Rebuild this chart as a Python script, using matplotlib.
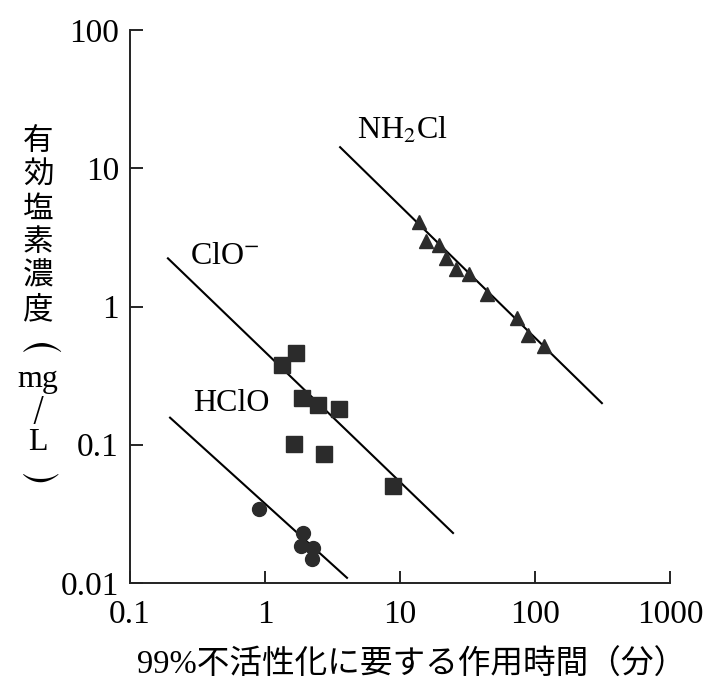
import matplotlib
matplotlib.use("Agg")
import matplotlib.pyplot as plt
from matplotlib.ticker import FixedLocator, FixedFormatter, NullLocator

plt.rcParams["font.family"] = ["Liberation Serif", "Noto Sans CJK JP"]
plt.rcParams["mathtext.fontset"] = "stix"

# ============================================================
# DADOS
# ============================================================

# NH2Cl (triângulos)
nh2cl_t = [13.8, 15.6, 19.4, 21.9, 26.0, 32.4, 44.1, 73.6, 88.8, 117]
nh2cl_c = [4.06, 3.0, 2.77, 2.23, 1.88, 1.73, 1.24, 0.82, 0.62, 0.52]
nh2cl_linha_t = [3.6, 313]
nh2cl_linha_c = [14.2, 0.20]

# ClO- (quadrados)
clo_t = [1.70, 1.34, 1.88, 2.47, 3.53, 1.64, 2.74, 8.87]
clo_c = [0.464, 0.380, 0.219, 0.195, 0.182, 0.102, 0.086, 0.050]
clo_linha_t = [0.191, 24.7]
clo_linha_c = [2.23, 0.023]

# HClO (círculos)
hclo_t = [0.90, 1.91, 1.85, 2.27, 2.23]
hclo_c = [0.0343, 0.0230, 0.0185, 0.0179, 0.0149]
hclo_linha_t = [0.198, 4.05]
hclo_linha_c = [0.157, 0.0109]

xticks = [0.1, 1, 10, 100, 1000]
xticklabels = ["0.1", "1", "10", "100", "1000"]
yticks = [0.01, 0.1, 1, 10, 100]
yticklabels = ["0.01", "0.1", "1", "10", "100"]

# ============================================================
# FIGURA
# ============================================================

W, H = 706, 681
fig = plt.figure(figsize=(W / 100, H / 100), dpi=100)
ax = fig.add_axes([130 / W, 1 - 583 / H, 540 / W, 553 / H])

cor = "#2b2b2b"

ax.plot(nh2cl_linha_t, nh2cl_linha_c, color="black", lw=1.5)
ax.plot(clo_linha_t, clo_linha_c, color="black", lw=1.5)
ax.plot(hclo_linha_t, hclo_linha_c, color="black", lw=1.5)

ax.plot(nh2cl_t, nh2cl_c, linestyle="none", marker="^", markersize=10, color=cor)
ax.plot(clo_t, clo_c, linestyle="none", marker="s", markersize=11, color=cor)
ax.plot(hclo_t, hclo_c, linestyle="none", marker="o", markersize=10, color=cor)

ax.set_xscale("log")
ax.set_yscale("log")
ax.set_xlim(0.1, 1000)
ax.set_ylim(0.01, 100)

ax.xaxis.set_major_locator(FixedLocator(xticks))
ax.xaxis.set_major_formatter(FixedFormatter(xticklabels))
ax.yaxis.set_major_locator(FixedLocator(yticks))
ax.yaxis.set_major_formatter(FixedFormatter(yticklabels))
ax.xaxis.set_minor_locator(NullLocator())
ax.yaxis.set_minor_locator(NullLocator())

ax.spines["top"].set_visible(False)
ax.spines["right"].set_visible(False)
for s in ("left", "bottom"):
    ax.spines[s].set_linewidth(1.4)
    ax.spines[s].set_color("#222222")

ax.tick_params(axis="x", direction="in", length=9, width=1.2, pad=12, labelsize=24)
ax.tick_params(axis="y", direction="in", length=9, width=1.2, pad=8, labelsize=24)

# rótulos das séries
ax.text(10.5, 18.8, "NH$_2$Cl", fontsize=23, ha="center", va="center")
ax.text(0.506, 2.30, "ClO$^{-}$", fontsize=23, ha="center", va="center")
ax.text(0.56, 0.198, "HClO", fontsize=23, ha="center", va="center")

# eixo x
fig.text(412 / W, 1 - 665 / H, "99%不活性化に要する作用時間（分）",
         fontsize=23.5, ha="center", va="center")

# eixo y (texto vertical, um caractere por linha)
ylab_chars = ["有", "効", "塩", "素", "濃", "度"]
for i, ch in enumerate(ylab_chars):
    fig.text(38 / W, 1 - (143 + 33.6 * i) / H, ch, fontsize=22,
             ha="center", va="center")
fig.text(38 / W, 1 - 346 / H, r"$\frown$", fontsize=30, ha="center", va="center")
fig.text(38 / W, 1 - 387 / H, "mg", fontsize=23, ha="center", va="baseline")
fig.text(38 / W, 1 - 411 / H, "/", fontsize=24, ha="center", va="center",
         family="DejaVu Sans", fontweight="light")
fig.text(38 / W, 1 - 450 / H, "L", fontsize=23, ha="center", va="baseline")
fig.text(38 / W, 1 - 459 / H, r"$\smile$", fontsize=28, ha="center", va="top")

fig.savefig("out.png", dpi=100)
